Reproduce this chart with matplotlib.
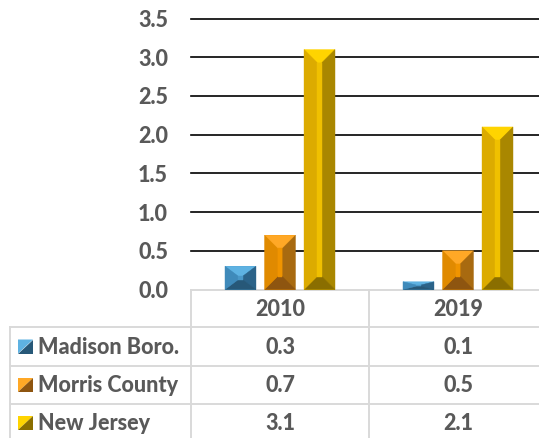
import numpy as np
import matplotlib
matplotlib.use("Agg")
import matplotlib.pyplot as plt
from matplotlib.patches import Polygon

# ---- data ----
years = ["2010", "2019"]
series_names = ["Madison Boro.", "Morris County", "New Jersey"]
madison = [0.3, 0.1]
morris = [0.7, 0.5]
new_jersey = [3.1, 2.1]
series_values = [madison, morris, new_jersey]
yticks = [0.0, 0.5, 1.0, 1.5, 2.0, 2.5, 3.0, 3.5]

# facet colours: (top, left, centre, right, bottom)
palettes = [
    ("#5eb2e2", "#3f8aba", "#4a98c8", "#2b6389", "#275878"),
    ("#ffa826", "#e08a00", "#f09400", "#a86a10", "#8e5510"),
    ("#ffd400", "#dcab00", "#f0c000", "#a98700", "#8a6e00"),
]

W, H = 539, 438
TXT = "#595959"
FONT = "Lato"
FW = 900
FS = 15.5

fig = plt.figure(figsize=(W / 100, H / 100), dpi=100)

axt = fig.add_axes([0, 0, 1, 1], zorder=0)
axt.set_xlim(0, W)
axt.set_ylim(H, 0)
axt.axis("off")

y0px, y35px = 289.5, 18.6
xl, xr = 191, 547
ax = fig.add_axes([xl / W, 1 - y0px / H, (xr - xl) / W, (y0px - y35px) / H], zorder=1)
ax.set_facecolor("none")
ax.set_xlim(-0.5, 1.5)
ax.set_ylim(0, 3.5)
for s in ax.spines.values():
    s.set_visible(False)
ax.set_xticks([])
ax.set_yticks(yticks)
ax.set_yticklabels([f"{v:.1f}" for v in yticks], fontfamily=FONT,
                   fontweight=FW, fontsize=FS, color=TXT)
ax.tick_params(axis="y", length=0, pad=16.5)
for v in yticks[1:]:
    ax.axhline(v, color="black", lw=1.2, zorder=1, clip_on=False)

x = np.arange(len(years))
bw = 0.174
off = 0.222
px_per_unit = (y0px - y35px) / 3.5
for i, (vals, pal) in enumerate(zip(series_values, palettes)):
    xs = x + (i - 1) * off
    bars = ax.bar(xs, vals, width=bw, color=pal[2], zorder=3, linewidth=0)
    for b in bars:
        x0, x1 = b.get_x(), b.get_x() + b.get_width()
        h = b.get_height()
        bx = 0.42 * (x1 - x0)
        by = min(13 / px_per_unit, h * 0.42)
        A, B, C, D = (x0, h), (x1, h), (x1, 0), (x0, 0)
        a, bb, c, d = (x0 + bx, h - by), (x1 - bx, h - by), (x1 - bx, by), (x0 + bx, by)
        facets = [([A, B, bb, a], pal[0]), ([B, C, c, bb], pal[3]),
                  ([C, D, d, c], pal[4]), ([D, A, a, d], pal[1]),
                  ([a, bb, c, d], pal[2])]
        for pts, col in facets:
            ax.add_patch(Polygon(pts, closed=True, facecolor=col,
                                 edgecolor=col, lw=0.3, zorder=4))

# ---- data table ----
GRID = "#d9d9d9"
LW = 1.4
col_x = [191, 369, 547]
row_y = [289.5, 327, 366, 404, 443]
label_left = 10
axt.plot([col_x[0], W], [row_y[0]] * 2, color=GRID, lw=LW)
for yy in row_y[1:]:
    axt.plot([label_left, W], [yy, yy], color=GRID, lw=LW)
axt.plot([label_left, label_left], [row_y[1], H], color=GRID, lw=LW)
for xx in col_x[:2]:
    axt.plot([xx, xx], [row_y[0], H], color=GRID, lw=LW)

col_centers = [(col_x[j] + col_x[j + 1]) / 2 for j in range(len(years))]
for j, yr in enumerate(years):
    axt.text(col_centers[j], (row_y[0] + row_y[1]) / 2 + 1, yr, ha="center",
             va="center", fontfamily=FONT, fontweight=FW, fontsize=FS, color=TXT)

for i, (name, vals, pal) in enumerate(zip(series_names, series_values, palettes)):
    cy = (row_y[i + 1] + row_y[i + 2]) / 2
    if i == 2:
        cy = 423
    k0, k1 = 18, 33
    t, b_ = cy - 7, cy + 7
    axt.add_patch(Polygon([(k0, t), (k1, t), (k0, b_)], closed=True,
                          facecolor=pal[0], edgecolor="none"))
    axt.add_patch(Polygon([(k1, t), (k1, b_), (k0, b_)], closed=True,
                          facecolor=pal[4], edgecolor="none"))
    axt.text(38, cy + 1, name, ha="left", va="center", fontfamily=FONT,
             fontweight=FW, fontsize=FS, color=TXT)
    for j, v in enumerate(vals):
        axt.text(col_centers[j], cy + 1, f"{v:.1f}", ha="center", va="center",
                 fontfamily=FONT, fontweight=FW, fontsize=FS, color=TXT)

fig.savefig("out.png", dpi=100)
